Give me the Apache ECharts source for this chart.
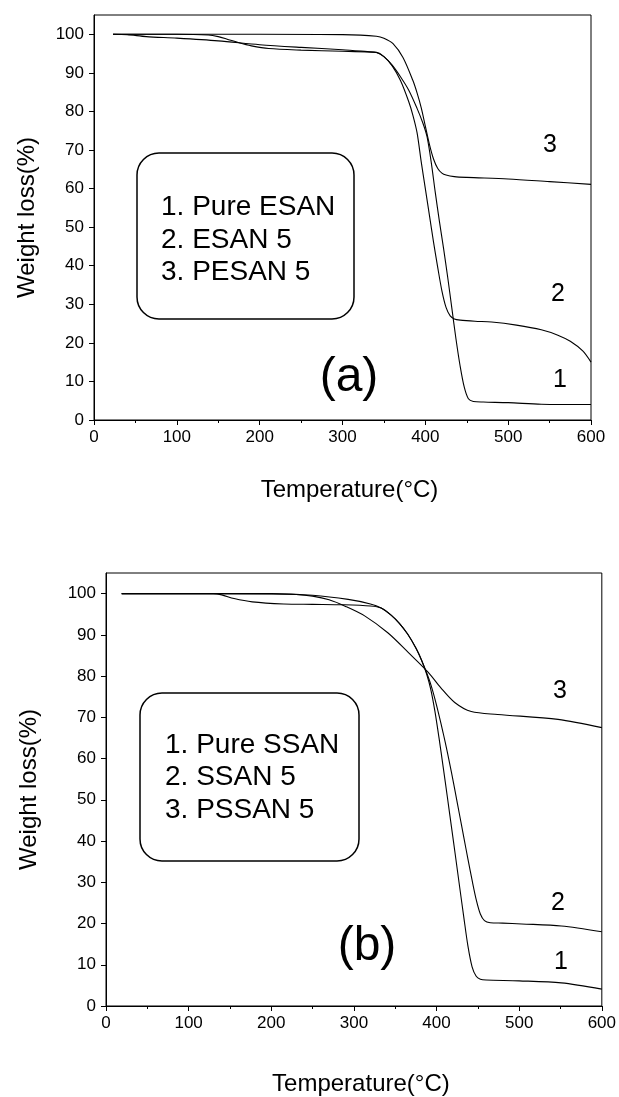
<!DOCTYPE html>
<html>
<head>
<meta charset="utf-8">
<script src="https://cdn.jsdelivr.net/npm/echarts@6/dist/echarts.min.js"></script>
</head>
<body style="margin:0">
<div id="container" style="width:619px;height:1097px"></div>
<script>
// tick values
var xTicks = [0, 100, 200, 300, 400, 500, 600];
var yTicks = [0, 10, 20, 30, 40, 50, 60, 70, 80, 90, 100];

// (a) ESAN series: temperature (C) and weight (%)
var tempA1 = [23, 40, 63, 100, 150, 200, 250, 300, 330, 341, 350, 360, 370, 380, 390, 397, 402, 407, 412, 417, 422, 427, 432, 437, 442, 447, 452, 458, 470, 500, 540, 600];
var wA1 = [100, 99.9, 99.4, 99.0, 98.3, 97.3, 96.6, 96.0, 95.5, 95.3, 94.2, 92.0, 89.0, 85.5, 80.8, 77.0, 73.5, 67.0, 59.0, 51.5, 44.5, 37.0, 29.0, 21.0, 14.0, 8.5, 5.5, 4.8, 4.65, 4.5, 4.1, 4.0];
var tempA2 = [23, 100, 138, 150, 160, 175, 190, 211, 250, 300, 330, 341, 350, 360, 370, 380, 385, 390, 395, 400, 405, 410, 415, 420, 425, 430, 435, 442, 460, 480, 510, 540, 560, 575, 590, 600];
var wA2 = [100, 100, 99.8, 99.4, 98.8, 97.8, 97, 96.3, 95.9, 95.6, 95.4, 95.3, 94.2, 91.8, 88.0, 82.5, 79, 74.5, 67, 60, 53, 46, 39.5, 33.5, 29.2, 27, 26.2, 25.9, 25.6, 25.4, 24.6, 23.4, 22.0, 20.4, 17.9, 15];
var tempA3 = [23, 100, 200, 300, 341, 350, 361, 373, 385, 390, 395, 400, 405, 410, 415, 420, 425, 435, 450, 500, 550, 600];
var wA3 = [100, 100, 100, 99.9, 99.5, 99, 97.6, 94, 88, 84.8, 81, 76.2, 71.4, 67.6, 65.2, 64, 63.5, 63.1, 62.9, 62.5, 61.8, 61.1];

// (b) SSAN series
var tempB1 = [19, 200, 250, 293, 320, 333, 345, 355, 365, 375, 382, 388, 393, 398, 403, 408, 413, 418, 423, 428, 433, 438, 443, 448, 453, 460, 500, 551, 600];
var wB1 = [100, 100, 99.6, 98.6, 97.5, 96.5, 94.8, 92.8, 90.2, 86.8, 83.8, 80.5, 76.8, 71.5, 65, 58, 50.8, 43.5, 36.2, 28.8, 21.5, 14.5, 9.5, 7.2, 6.5, 6.3, 6.1, 5.6, 4.1];
var tempB2 = [19, 130, 140, 155, 177, 215, 250, 287, 320, 333, 345, 355, 365, 375, 382, 388, 393, 398, 403, 408, 413, 418, 423, 428, 433, 438, 443, 448, 453, 458, 465, 480, 503, 551, 600];
var wB2 = [100, 100, 99.7, 98.8, 98, 97.5, 97.4, 97.3, 97, 96.5, 94.8, 92.8, 90.2, 86.8, 83.8, 80.8, 78, 74.5, 70.5, 66.2, 61.6, 56.7, 51.5, 46.2, 40.9, 35.6, 30.5, 25.8, 22.3, 20.7, 20.2, 20.1, 19.9, 19.4, 18];
var tempB3 = [19, 200, 230, 250, 270, 290, 313, 341, 366, 390, 405, 422, 442, 474, 547, 600];
var wB3 = [100, 99.9, 99.8, 99.4, 98.5, 96.9, 94.6, 90.5, 85.7, 80.9, 77.2, 73.6, 71.4, 70.7, 69.5, 67.5];

var legendA = ['1. Pure ESAN', '2. ESAN 5', '3. PESAN 5'];
var legendB = ['1. Pure SSAN', '2. SSAN 5', '3. PSSAN 5'];

var FONT = '"Liberation Sans", Arial, sans-serif';

function pairs(t, w) {
    return t.map(function (v, i) { return [v, w[i]]; });
}

function xAxisOpt(gridIndex, gap) {
    return {
        type: 'value', gridIndex: gridIndex, min: 0, max: 600, interval: 100,
        name: 'Temperature(°C)', nameLocation: 'middle', nameGap: gap,
        nameTextStyle: { fontFamily: FONT, fontSize: 24, color: '#000', padding: [0, 0, 0, 14] },
        axisLine: { onZero: false, lineStyle: { color: '#000', width: 1 } },
        axisTick: { length: 5, lineStyle: { color: '#000' } },
        minorTick: { show: true, splitNumber: 2, length: 3, lineStyle: { color: '#000' } },
        axisLabel: { fontFamily: FONT, fontSize: 17, color: '#000', margin: 9 },
        splitLine: { show: false }
    };
}

function yAxisOpt(gridIndex, gap) {
    return {
        type: 'value', gridIndex: gridIndex, min: 0, max: 105, interval: 10,
        name: 'Weight loss(%)', nameLocation: 'middle', nameGap: gap,
        nameTextStyle: { fontFamily: FONT, fontSize: 24, color: '#000' },
        axisLine: { lineStyle: { color: '#000', width: 1 } },
        axisTick: { length: 5, customValues: yTicks, lineStyle: { color: '#000' } },
        axisLabel: { fontFamily: FONT, fontSize: 17, color: '#000', margin: 10, customValues: yTicks },
        splitLine: { show: false }
    };
}

function lineSeries(idx, t, w) {
    return {
        type: 'line', xAxisIndex: idx, yAxisIndex: idx,
        data: pairs(t, w), showSymbol: false, smooth: 0.3,
        lineStyle: { color: '#000', width: 1.1 }
    };
}

function txt(x, y, s, size, align) {
    return {
        type: 'text', x: x, y: y,
        style: { text: s, font: size + 'px ' + FONT, fill: '#000', align: align || 'left', verticalAlign: 'middle' }
    };
}

var chart = echarts.init(document.getElementById('container'));

var option = {
    animation: false,
    backgroundColor: '#fff',
    grid: [
        { left: 94, right: 28, top: 15, height: 405, show: true, borderColor: '#000', borderWidth: 1 },
        { left: 106, right: 15, top: 573, height: 434, show: true, borderColor: '#000', borderWidth: 1 }
    ],
    xAxis: [xAxisOpt(0, 58), xAxisOpt(1, 66)],
    yAxis: [yAxisOpt(0, 55), yAxisOpt(1, 65)],
    series: [
        lineSeries(0, tempA1, wA1),
        lineSeries(0, tempA2, wA2),
        lineSeries(0, tempA3, wA3),
        lineSeries(1, tempB1, wB1),
        lineSeries(1, tempB2, wB2),
        lineSeries(1, tempB3, wB3)
    ],
    graphic: [
        { type: 'rect', shape: { x: 137, y: 153, width: 217, height: 166, r: 22 },
          style: { fill: 'none', stroke: '#000', lineWidth: 1.5 } },
        txt(161, 207, legendA[0], 28),
        txt(161, 240, legendA[1], 28),
        txt(161, 272, legendA[2], 28),
        txt(349, 378, '(a)', 48, 'center'),
        txt(550, 145, '3', 25, 'center'),
        txt(558, 294, '2', 25, 'center'),
        txt(560, 380, '1', 25, 'center'),

        { type: 'rect', shape: { x: 140, y: 693, width: 219, height: 168, r: 22 },
          style: { fill: 'none', stroke: '#000', lineWidth: 1.5 } },
        txt(165, 745, legendB[0], 28),
        txt(165, 777, legendB[1], 28),
        txt(165, 810, legendB[2], 28),
        txt(367, 947, '(b)', 48, 'center'),
        txt(560, 691, '3', 25, 'center'),
        txt(558, 903, '2', 25, 'center'),
        txt(561, 962, '1', 25, 'center')
    ]
};

chart.setOption(option);
</script>
</body>
</html>
